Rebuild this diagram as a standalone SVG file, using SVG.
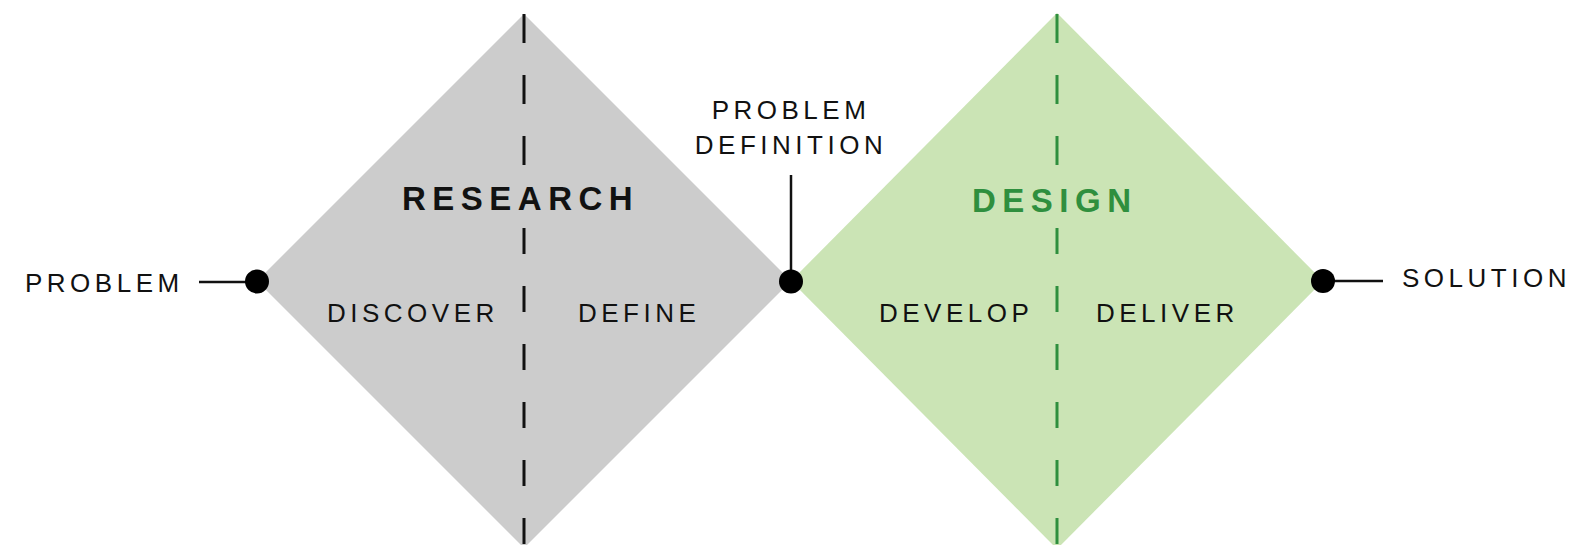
<svg xmlns="http://www.w3.org/2000/svg" width="1569" height="545" viewBox="0 0 1569 545">
  <style>
    .label { font-family: "Liberation Sans", Arial, sans-serif; font-size: 26px; letter-spacing: 4.5px; fill: #111111; }
    .title { font-family: "Liberation Sans", Arial, sans-serif; font-size: 33px; font-weight: bold; letter-spacing: 6.5px; }
    .axis-gray { stroke: #111111; stroke-width: 3; fill: none; }
    .axis-green { stroke: #2f8f3e; stroke-width: 3; fill: none; }
    .link { stroke: #111111; stroke-width: 2.5; fill: none; }
    .dot { fill: #000000; }
  </style>
  <rect width="1569" height="545" fill="#ffffff"/>

  <!-- Research diamond -->
  <g id="research">
    <polygon points="257,281 524,14 791,281 524,548" fill="#cccccc"/>
    <line class="axis-gray" x1="524" y1="14" x2="524" y2="166" stroke-dasharray="29 32"/>
    <line class="axis-gray" x1="524" y1="228" x2="524" y2="545" stroke-dasharray="26 32"/>
    <text class="title" x="402" y="210" fill="#111111">RESEARCH</text>
    <text class="label" x="327" y="322">DISCOVER</text>
    <text class="label" x="578" y="322">DEFINE</text>
  </g>

  <!-- Design diamond -->
  <g id="design">
    <polygon points="791,281 1057,13 1323,281 1057,549" fill="#cbe4b5"/>
    <line class="axis-green" x1="1057" y1="14" x2="1057" y2="166" stroke-dasharray="29 32"/>
    <line class="axis-green" x1="1057" y1="228" x2="1057" y2="545" stroke-dasharray="26 32"/>
    <text class="title" x="972" y="212" fill="#2f8f3e">DESIGN</text>
    <text class="label" x="879" y="322">DEVELOP</text>
    <text class="label" x="1096" y="322">DELIVER</text>
  </g>

  <!-- Connectors -->
  <g id="connectors">
    <line class="link" x1="199" y1="282" x2="257" y2="282"/>
    <line class="link" x1="791" y1="175" x2="791" y2="281"/>
    <line class="link" x1="1323" y1="281" x2="1383" y2="281"/>
  </g>

  <g id="problem">
    <circle class="dot" cx="257" cy="281.5" r="12"/>
    <text class="label" x="25" y="292">PROBLEM</text>
  </g>

  <g id="problem-definition">
    <circle class="dot" cx="791" cy="281.5" r="12"/>
    <text class="label" x="791" y="119" text-anchor="middle">PROBLEM</text>
    <text class="label" x="791" y="154" text-anchor="middle">DEFINITION</text>
  </g>

  <g id="solution">
    <circle class="dot" cx="1323" cy="281" r="12"/>
    <text class="label" x="1402" y="287">SOLUTION</text>
  </g>
</svg>
